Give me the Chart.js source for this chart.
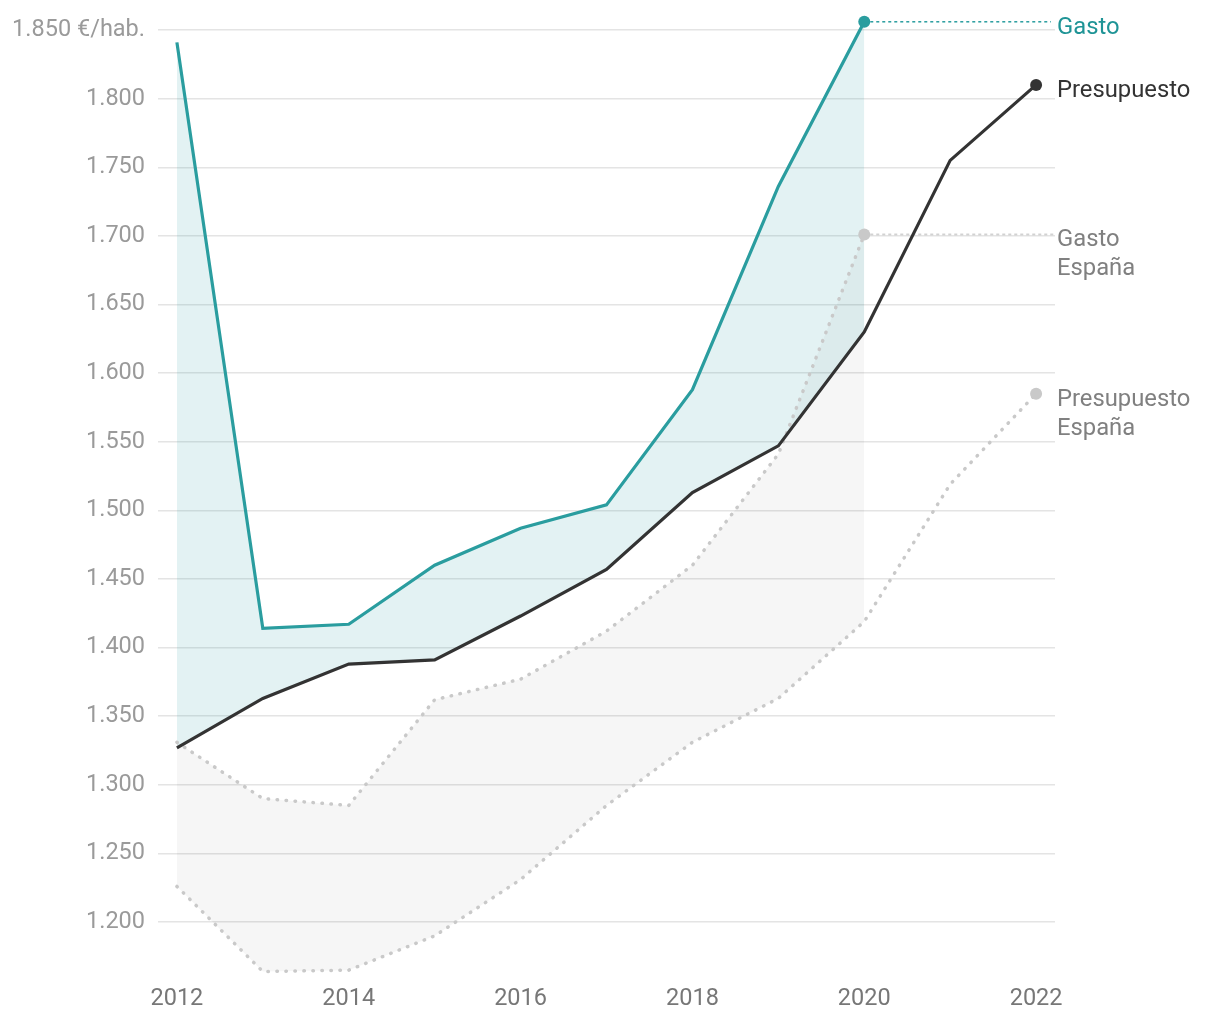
<!DOCTYPE html>
<html><head><meta charset="utf-8">
<script src="https://cdn.jsdelivr.net/npm/chart.js@4.4.1/dist/chart.umd.min.js"></script>
<style>html,body{margin:0;padding:0;background:#fff}#wrap{width:1220px;height:1020px}</style>
</head><body><div id="wrap"><canvas id="c" width="1220" height="1020"></canvas></div>
<script>
const years = [2012,2013,2014,2015,2016,2017,2018,2019,2020,2021,2022];
const gasto = [1841,1414,1417,1460,1487,1504,1588,1736,1856];
const presupuesto = [1327,1363,1388,1391,1423,1457,1513,1547,1630,1755,1810];
const gastoEspana = [1331,1290,1285,1362,1377,1412,1460,1541,1701];
const presupuestoEspana = [1226,1164,1165,1190,1231,1285,1331,1363,1419,1519,1585];
const yTicks = [1200,1250,1300,1350,1400,1450,1500,1550,1600,1650,1700,1750,1800,1850];
const xTicks = [2012,2014,2016,2018,2020,2022];
const seriesLabels = [['Gasto'],['Presupuesto'],['Gasto','España'],['Presupuesto','España']];
const topUnit = ' €/hab.';

const TEAL = '#2a9d9f', DARK = '#333333', GREY = '#c9c9c9';
const FONT = 'Roboto, "Noto Sans", sans-serif';
const pts = arr => arr.map((v,i)=>({x:years[i], y:v}));
const lastR = r => ctx => ctx.dataIndex === ctx.dataset.data.length-1 ? r : 0;
const fmt = v => v.toLocaleString('de-DE');

const labelPlugin = {
  id:'endLabels',
  beforeDatasetsDraw(chart){
    const {ctx, scales:{x,y}} = chart;
    ctx.save();
    ctx.setLineDash([3,3]); ctx.lineWidth=1.5; ctx.strokeStyle=TEAL;
    ctx.beginPath();
    const gy = y.getPixelForValue(gasto[gasto.length-1]);
    ctx.moveTo(x.getPixelForValue(years[gasto.length-1]), gy);
    ctx.lineTo(x.right-4, gy); ctx.stroke();
    ctx.setLineDash([3,3]); ctx.lineWidth=2; ctx.strokeStyle='#d2d2d2';
    ctx.beginPath();
    const ey = y.getPixelForValue(gastoEspana[gastoEspana.length-1]);
    ctx.moveTo(x.getPixelForValue(years[gastoEspana.length-1]), ey);
    ctx.lineTo(x.right+1, ey); ctx.stroke();
    ctx.restore();
  },
  afterDatasetsDraw(chart){
    const {ctx, scales:{y}, chartArea} = chart;
    const series = [gasto, presupuesto, gastoEspana, presupuestoEspana];
    const colors = ['#1f9496', '#333333', '#808080', '#808080'];
    ctx.save();
    ctx.font = '23.8px ' + FONT;
    ctx.textAlign='left'; ctx.textBaseline='middle';
    series.forEach((s,i)=>{
      const py = y.getPixelForValue(s[s.length-1]) + 6;
      ctx.fillStyle = colors[i];
      seriesLabels[i].forEach((t,j)=> ctx.fillText(t, chartArea.right+2, py + j*29));
    });
    ctx.restore();
  }
};

new Chart(document.getElementById('c'), {
  type:'line',
  data:{ datasets:[
    { label:'Gasto', data:pts(gasto), borderColor:TEAL, borderWidth:3.2, backgroundColor:'rgba(42,157,159,0.13)',
      fill:{target:1}, pointRadius:lastR(6), pointBackgroundColor:TEAL, pointBorderWidth:0, tension:0, order:1 },
    { label:'Presupuesto', data:pts(presupuesto), borderColor:DARK, borderWidth:3.2, fill:false,
      pointRadius:lastR(6), pointBackgroundColor:DARK, pointBorderWidth:0, tension:0, order:0 },
    { label:'Gasto España', data:pts(gastoEspana), borderColor:GREY, borderWidth:3.5, borderDash:[0.5,8.5], borderCapStyle:'round',
      backgroundColor:'rgba(0,0,0,0.035)', fill:{target:3}, pointRadius:lastR(6), pointBackgroundColor:GREY, pointBorderWidth:0, tension:0, order:2 },
    { label:'Presupuesto España', data:pts(presupuestoEspana), borderColor:GREY, borderWidth:3.5, borderDash:[0.5,8.5], borderCapStyle:'round',
      fill:false, pointRadius:lastR(6), pointBackgroundColor:GREY, pointBorderWidth:0, tension:0, order:3 }
  ]},
  options:{
    responsive:false, animation:false, devicePixelRatio:1,
    layout:{padding:{top:13, right:165, left:0, bottom:0}},
    plugins:{ legend:{display:false}, tooltip:{enabled:false}, filler:{drawTime:'beforeDatasetsDraw'} },
    scales:{
      x:{ type:'linear', min:2011.78, max:2022.22,
        afterBuildTicks(s){ s.ticks = xTicks.map(v=>({value:v})); },
        afterFit(s){ s.height = 43; s.paddingLeft = 0; s.paddingRight = 0; },
        grid:{display:false, drawTicks:false}, border:{display:false},
        ticks:{ color:'#777', font:{family:FONT, size:23.5}, padding:8, maxRotation:0, callback:v=>String(v) } },
      y:{ min:1160, max:1862.4,
        afterBuildTicks(s){ s.ticks = yTicks.map(v=>({value:v})); },
        afterFit(s){ s.width = 158; s.paddingTop = 0; s.paddingBottom = 0; },
        grid:{color:'#e4e4e4', lineWidth:1.5, drawTicks:false}, border:{display:false},
        ticks:{ color:'#9a9a9a', font:{family:FONT, size:23.5}, padding:13,
          callback:v=> v===yTicks[yTicks.length-1] ? fmt(v)+topUnit : fmt(v) } }
    }
  },
  plugins:[labelPlugin]
});
</script></body></html>
